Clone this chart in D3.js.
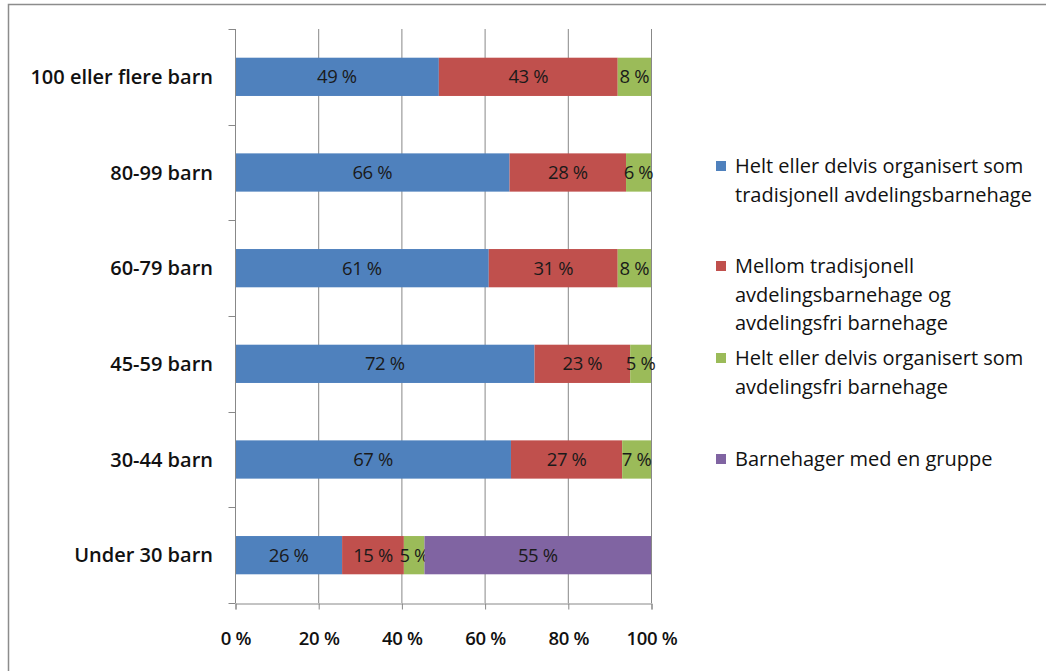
<!DOCTYPE html>
<html><head><meta charset="utf-8">
<script src="https://cdn.jsdelivr.net/npm/d3@7"></script>
<style>
html,body{margin:0;padding:0;background:#fff;}
svg{display:block;}
text{font-family:"Open Sans",Lato,sans-serif;}
</style></head>
<body><svg id="c" width="1046" height="671"></svg>
<script>
const categories = ["100 eller flere barn","80-99 barn","60-79 barn","45-59 barn","30-44 barn","Under 30 barn"];
const seriesNames = [
  "Helt eller delvis organisert som tradisjonell avdelingsbarnehage",
  "Mellom tradisjonell avdelingsbarnehage og avdelingsfri barnehage",
  "Helt eller delvis organisert som avdelingsfri barnehage",
  "Barnehager med en gruppe"
];
const legendLines = [
  ["Helt eller delvis organisert som","tradisjonell avdelingsbarnehage"],
  ["Mellom tradisjonell","avdelingsbarnehage og","avdelingsfri barnehage"],
  ["Helt eller delvis organisert som","avdelingsfri barnehage"],
  ["Barnehager med en gruppe"]
];
const tradisjonell = [49,66,61,72,67,26];
const mellom = [43,28,31,23,27,15];
const avdelingsfri = [8,6,8,5,7,5];
const enGruppe = [0,0,0,0,0,55];
const xTicks = [0,0.2,0.4,0.6,0.8,1];
const colors = ["#4F81BD","#C0504D","#9BBB59","#8064A2"];

const svg = d3.select("#c");
svg.append("rect").attr("x",8.5).attr("y",4.5).attr("width",1100).attr("height",800)
  .attr("fill","none").attr("stroke","#8c8c8c").attr("stroke-width",1.5);

const L=235, R=651, T=29, B=603;
const x = d3.scaleLinear().domain([0,1]).range([L,R]);
const y = d3.scaleBand().domain(categories).range([T,B]).paddingInner(0.6).paddingOuter(0.3);
const yb = d3.scaleBand().domain(categories).range([T,B]);

const keys = ["a","b","c","d"];
const rows = categories.map((c,i)=>({cat:c,a:tradisjonell[i],b:mellom[i],c:avdelingsfri[i],d:enGruppe[i]}));
const stack = d3.stack().keys(keys).offset(d3.stackOffsetExpand)(rows);

// gridlines
svg.append("g").selectAll("line").data(xTicks.slice(1)).join("line")
  .attr("x1",d=>x(d)+0.5).attr("x2",d=>x(d)+0.5).attr("y1",T).attr("y2",B)
  .attr("stroke","#888").attr("stroke-width",1);

// bars
const g = svg.append("g");
stack.forEach((s,si)=>{
  const gg = g.append("g").attr("fill",colors[si]);
  gg.selectAll("rect").data(s.filter(d=>d.data[keys[si]]>0)).join("rect")
    .attr("x",d=>x(d[0])).attr("width",d=>x(d[1])-x(d[0]))
    .attr("y",d=>y(d.data.cat)).attr("height",y.bandwidth());
  g.append("g").selectAll("text").data(s.filter(d=>d.data[keys[si]]>0)).join("text")
    .attr("x",d=>(x(d[0])+x(d[1]))/2).attr("y",d=>y(d.data.cat)+y.bandwidth()/2)
    .attr("dy","0.36em").attr("text-anchor","middle")
    .attr("font-size",18.5).attr("fill","#1a1a1a").attr("letter-spacing","-0.4")
    .text(d=>d.data[keys[si]]+" %");
});

// y axis
const yAxis = svg.append("g").attr("transform",`translate(${L+0.5},0)`);
yAxis.append("line").attr("y1",T).attr("y2",B).attr("stroke","#888");
yAxis.selectAll(".tk").data(categories.concat(["end"])).join("line")
  .attr("x1",-7).attr("x2",0)
  .attr("y1",(d,i)=>i<categories.length? Math.round(yb(d))+0.5 : B+0.5)
  .attr("y2",(d,i)=>i<categories.length? Math.round(yb(d))+0.5 : B+0.5)
  .attr("stroke","#888");
svg.append("g").selectAll("text").data(categories).join("text")
  .attr("x",213).attr("y",d=>yb(d)+yb.bandwidth()/2).attr("dy","0.36em")
  .attr("text-anchor","end").attr("font-size",20).attr("font-weight",600).attr("fill","#111")
  .text(d=>d);

// x axis
const xa = d3.axisBottom(x).tickValues(xTicks).tickSize(6).tickFormat(d=>Math.round(d*100)+" %");
const xg = svg.append("g").attr("transform",`translate(0.5,${B+0.5})`).call(xa);
xg.select(".domain").attr("stroke","#888");
xg.selectAll(".tick line").attr("stroke","#888");
xg.selectAll(".tick text").attr("font-size",18.5).attr("font-weight",600).attr("fill","#111")
  .attr("font-family","'Open Sans',sans-serif").attr("letter-spacing","-0.3").attr("y",35).attr("dy","0.36em");

// legend
const legY = [166,266,358,459];
const lg = svg.append("g");
seriesNames.forEach((n,i)=>{
  lg.append("rect").attr("x",716).attr("y",legY[i]-5).attr("width",10).attr("height",10).attr("fill",colors[i]);
  const t = lg.append("text").attr("x",735).attr("y",legY[i])
    .attr("font-size",20).attr("fill","#111").attr("font-weight",500);
  legendLines[i].forEach((ln,j)=>{
    t.append("tspan").attr("x",735).attr("dy",j===0?"0.36em":"28.5px").text(ln);
  });
});
</script></body></html>
